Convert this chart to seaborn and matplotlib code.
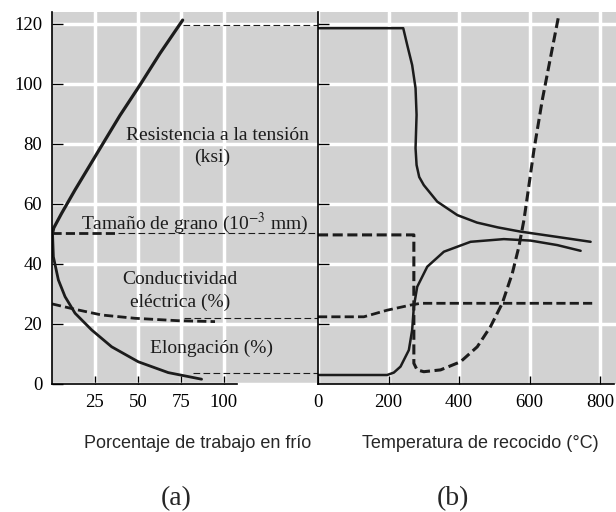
import matplotlib
matplotlib.use("Agg")
import matplotlib.pyplot as plt
import seaborn as sns

# (a) cold work, percent
cw_tensile_x = [0.3, 1.0, 5.6, 13.4, 27.9, 39.5, 51.2, 62.8, 76.0]
cw_tensile_y = [50.2, 52.0, 56.9, 64.7, 78.5, 89.5, 99.7, 110.2, 121.3]
cw_elong_x = [0.3, 0.8, 3.7, 7.6, 13.4, 23.1, 34.7, 50.2, 67.6, 87.0]
cw_elong_y = [50.2, 42.4, 34.7, 29.1, 23.6, 18.0, 12.4, 7.4, 3.8, 1.6]
cw_cond_x = [0, 13.4, 28.9, 48.3, 73.4, 94.8]
cw_cond_y = [26.7, 24.9, 23.0, 21.9, 21.1, 20.8]
cw_grain_x = [0, 38.5]
cw_grain_y = [50.2, 50.2]
# thin guide lines carried over to the annealing axis
guide_y = [119.7, 50.2, 21.9, 3.6]
guide_x0 = [76.0, 38.5, 77.0, 82.0]

# (b) annealing temperature, C
an_tensile_x = [0, 241.7, 253, 267, 276.6, 279.5, 278, 276.6, 279.5, 287, 300, 338, 395, 451, 510, 574, 680, 773]
an_tensile_y = [118.6, 118.6, 113, 106.3, 98.6, 89.7, 84, 78.6, 73, 69, 66.3, 60.8, 56.3, 53.8, 52.2, 50.8, 49.0, 47.4]
an_elong_x = [0, 196, 215, 234, 257.6, 267, 271.8, 281.3, 309.8, 357, 432.6, 527, 603, 678.6, 744.7]
an_elong_y = [3, 3, 3.8, 5.8, 11.3, 18, 25.8, 32.4, 39.1, 44.1, 47.4, 48.3, 47.8, 46.3, 44.4]
an_cond_x = [0, 130, 196, 262, 291, 783]
an_cond_y = [22.4, 22.4, 24.6, 26.3, 26.9, 26.9]
an_grain_x = [0, 271.8, 271.8, 281, 300, 347.5, 404, 451.6, 489, 522.5, 551, 569.7, 584, 593.5, 612.3, 636, 659.6, 681]
an_grain_y = [49.7, 49.7, 6.9, 4.7, 4.1, 4.7, 7.4, 12.4, 19.1, 26.9, 36.9, 45.8, 54.7, 62.4, 78, 94.7, 109, 121.9]

yticks = [0, 20, 40, 60, 80, 100, 120]
cw_ticks = [25, 50, 75, 100]
an_ticks = [0, 200, 400, 600, 800]

sns.set_style("darkgrid", {"axes.facecolor": "#d2d2d2", "grid.color": "white",
                           "axes.edgecolor": "black"})
plt.rcParams["mathtext.fontset"] = "stix"
serif = "Liberation Serif"
ink = "#1c1c1c"

fig = plt.figure(figsize=(6.16, 5.12), dpi=100)
ax1 = fig.add_axes([52 / 616, 128 / 512, 266 / 616, 372 / 512])
ax2 = fig.add_axes([318 / 616, 128 / 512, 298 / 616, 372 / 512])

thick_dash = (0, (3.3, 1.5))

# (a)
sns.lineplot(x=cw_tensile_x, y=cw_tensile_y, sort=False, estimator=None, ax=ax1, color=ink, linewidth=2.3)
sns.lineplot(x=cw_elong_x, y=cw_elong_y, sort=False, estimator=None, ax=ax1, color=ink, linewidth=2.0)
sns.lineplot(x=cw_cond_x, y=cw_cond_y, sort=False, estimator=None, ax=ax1, color=ink, linewidth=2.0, linestyle=thick_dash)
sns.lineplot(x=cw_grain_x, y=cw_grain_y, sort=False, estimator=None, ax=ax1, color=ink, linewidth=2.0, linestyle=thick_dash)
ax1.set_xlim(0, 154.7)
ax1.hlines(guide_y, guide_x0, ax1.get_xlim()[1], colors=ink, linewidth=0.8, linestyles=(0, (6, 3)))

# (b)
sns.lineplot(x=an_tensile_x, y=an_tensile_y, sort=False, estimator=None, ax=ax2, color=ink, linewidth=1.8)
sns.lineplot(x=an_elong_x, y=an_elong_y, sort=False, estimator=None, ax=ax2, color=ink, linewidth=1.8)
sns.lineplot(x=an_cond_x, y=an_cond_y, sort=False, estimator=None, ax=ax2, color=ink, linewidth=2.0, linestyle=thick_dash)
sns.lineplot(x=an_grain_x, y=an_grain_y, sort=False, estimator=None, ax=ax2, color=ink, linewidth=2.2, linestyle=thick_dash)
ax2.set_xlim(0, 845)

for ax in (ax1, ax2):
    ax.set_ylim(0, 124)
    ax.grid(True, linewidth=2.5)
    ax.set_xlabel("")
    ax.set_ylabel("")
    for side in ("top", "right"):
        ax.spines[side].set_visible(False)
    for side in ("left", "bottom"):
        ax.spines[side].set_visible(True)
        ax.spines[side].set_color("black")
        ax.spines[side].set_linewidth(1.2)
    ax.tick_params(direction="in", bottom=True, left=True, length=6, width=1.0,
                   colors="black", labelsize=13.5, pad=7)
    for lab in ax.get_xticklabels() + ax.get_yticklabels():
        lab.set_fontfamily(serif)

ax1.set_xticks(cw_ticks)
ax1.set_yticks(yticks)
ax1.set_xticklabels([str(t) for t in cw_ticks], fontfamily=serif, fontsize=13.5)
ax1.set_yticklabels([str(t) for t in yticks], fontfamily=serif, fontsize=13.5)
ax1.spines["bottom"].set_bounds(0, 107.6)
ax1.tick_params(axis="y", length=8)

ax2.set_xticks(an_ticks)
ax2.set_yticks(yticks[1:])
ax2.set_xticklabels([str(t) for t in an_ticks], fontfamily=serif, fontsize=13.5)
ax2.set_yticklabels([])
ax2.spines["bottom"].set_bounds(0, 838)
ax2.tick_params(axis="y", length=8)

# curve labels
ax1.text(96.5, 83, "Resistencia a la tensión", ha="center", va="center", fontfamily=serif, fontsize=14, color=ink)
ax1.text(93.3, 75.7, "(ksi)", ha="center", va="center", fontfamily=serif, fontsize=14, color=ink)
ax1.text(83, 53.7, "Tamaño de grano (10$^{-3}$ mm)", ha="center", va="center", fontfamily=serif, fontsize=14, color=ink)
ax1.text(74.4, 34.7, "Conductividad", ha="center", va="center", fontfamily=serif, fontsize=14, color=ink)
ax1.text(74.4, 27.3, "eléctrica (%)", ha="center", va="center", fontfamily=serif, fontsize=14, color=ink)
ax1.text(93, 12, "Elongación (%)", ha="center", va="center", fontfamily=serif, fontsize=14, color=ink)

# axis titles and panel letters
fig.text(198 / 616, 1 - 443 / 512, "Porcentaje de trabajo en frío", ha="center", va="center",
         fontfamily="Liberation Sans", fontsize=13)
fig.text(480 / 616, 1 - 443 / 512, "Temperatura de recocido (°C)", ha="center", va="center",
         fontfamily="Liberation Sans", fontsize=13)
fig.text(176 / 616, 1 - 499 / 512, "(a)", ha="center", va="center", fontfamily=serif, fontsize=20)
fig.text(453 / 616, 1 - 499 / 512, "(b)", ha="center", va="center", fontfamily=serif, fontsize=20)

fig.savefig("out.png", dpi=100)
